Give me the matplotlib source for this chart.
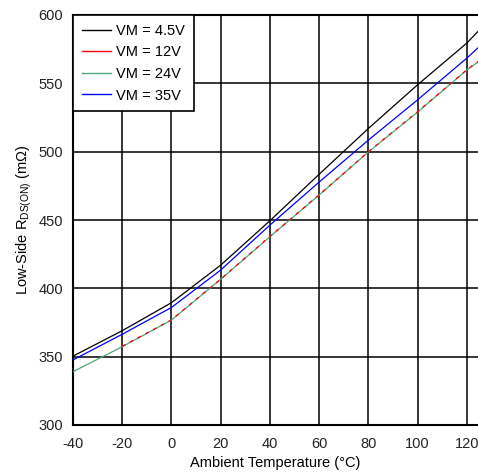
import matplotlib
matplotlib.use("Agg")
import matplotlib.pyplot as plt
from matplotlib.lines import Line2D

plt.rcParams["font.family"] = ["Liberation Sans", "DejaVu Sans"]
plt.rcParams["axes.unicode_minus"] = False

temps = [-40, -20, 0, 20, 40, 60, 80, 100, 120, 124.5]
vm_4v5 = [350.4, 369, 389.5, 417, 449.5, 483.5, 517, 549, 579.5, 588]
vm_35v = [347.6, 366.4, 386, 413.4, 446.3, 477.8, 508.5, 538, 568.5, 576]
vm_24v = [339, 357.3, 376.8, 406.6, 437.8, 468.3, 499.8, 529, 559.8, 565.6]
temps_12v = [-20, 0, 20, 40, 60, 80, 100, 120, 124.5]
vm_12v = [357.6, 377, 406.8, 438, 468.5, 500, 529.3, 560, 566]

xticks = [-40, -20, 0, 20, 40, 60, 80, 100, 120]
yticks = [300, 350, 400, 450, 500, 550, 600]

GREEN = "#4fa77a"

fig = plt.figure(figsize=(4.78, 4.74), dpi=100)
ax = fig.add_axes([73 / 478, 1 - 425 / 474, 405 / 478, 410 / 474])

ax.plot(temps, vm_4v5, color="black", lw=0.9)
ax.plot(temps, vm_24v, color=GREEN, lw=0.9, zorder=3)
ax.plot(temps_12v, vm_12v, color="red", lw=0.9, ls=(0, (3, 4)), zorder=4)
ax.plot(temps, vm_35v, color="blue", lw=0.9)

handles = [Line2D([], [], color=c, lw=1) for c in ["black", "red", GREEN, "blue"]]
labels = ["VM = 4.5V", "VM = 12V", "VM = 24V", "VM = 35V"]
leg = ax.legend(handles, labels, loc="upper left", borderaxespad=0, fancybox=False,
                framealpha=1, edgecolor="black", fontsize=10.5, handlelength=2.0,
                handletextpad=0.35, labelspacing=0.52, borderpad=0.6)
leg.get_frame().set_linewidth(1.2)
leg.set_zorder(10)

ax.set_xlim(-40, 124.5)
ax.set_ylim(300, 600)
ax.set_xticks(xticks)
ax.set_yticks(yticks)
ax.grid(True, color="black", lw=1.1)
ax.set_axisbelow(True)
ax.tick_params(length=0, labelsize=10.5, colors="#222222")
ax.tick_params(axis="x", pad=9)
ax.tick_params(axis="y", pad=7)
for s in ["left", "bottom", "top"]:
    ax.spines[s].set_linewidth(1.5)
    ax.spines[s].set_color("black")
ax.spines["right"].set_visible(False)

ax.set_xlabel("Ambient Temperature (°C)", fontsize=10.5, labelpad=3)
ax.set_ylabel("Low-Side R$_{\\mathregular{DS(ON)}}$ (mΩ)", fontsize=10.5, labelpad=3)

fig.savefig("out.png", dpi=100)
